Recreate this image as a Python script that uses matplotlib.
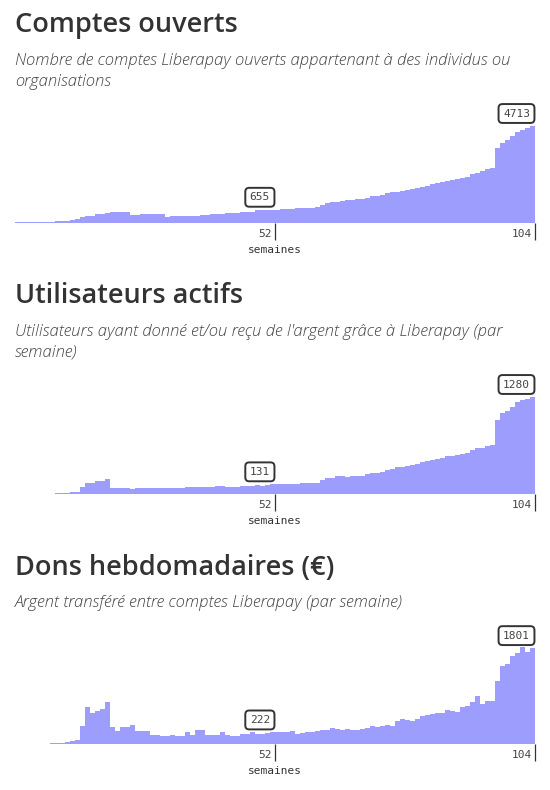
import matplotlib
matplotlib.use("Agg")
import matplotlib.pyplot as plt
import numpy as np

# weekly stats, weeks 1..104
comptes = [40, 42, 45, 65, 66, 68, 70, 72, 130, 132, 134, 136, 195, 290, 360, 365,
           435, 440, 510, 565, 568, 568, 566, 400, 405, 450, 452, 452, 451, 450,
           325, 352, 355, 356, 356, 357, 358, 400, 405, 448, 452, 455, 510, 515,
           518, 560, 565, 568, 640, 645, 650, 655,
           662, 692, 696, 700, 738, 742, 745, 748, 790, 887, 968, 1028, 1035, 1081,
           1125, 1132, 1175, 1182, 1226, 1318, 1326, 1372, 1468, 1512, 1520, 1565,
           1613, 1662, 1710, 1759, 1807, 1904, 1953, 2001, 2050, 2098, 2147, 2195,
           2243, 2389, 2437, 2534, 2631, 2679, 3647, 3875, 4020, 4230, 4425, 4520,
           4600, 4713]

actifs = [3, 3, 4, 4, 4, 5, 5, 5, 17, 18, 19, 30, 31, 96, 148, 150, 174, 176, 202,
          84, 83, 83, 82, 70, 82, 83, 83, 84, 84, 84, 85, 85, 85, 86, 95, 96, 96,
          97, 97, 98, 109, 110, 100, 101, 102, 113, 114, 115, 123, 110, 124, 131,
          134, 135, 136, 137, 138, 147, 148, 149, 150, 188, 213, 216, 240, 242,
          228, 239, 241, 243, 267, 279, 282, 294, 320, 333, 357, 361, 373, 386,
          399, 425, 438, 452, 465, 478, 502, 506, 517, 530, 543, 583, 607, 611,
          636, 649, 977, 1069, 1096, 1148, 1214, 1240, 1254, 1280]

dons = [5, 5, 6, 6, 7, 7, 8, 24, 25, 27, 45, 64, 83, 350, 694, 579, 617, 656, 790,
        331, 255, 330, 333, 369, 256, 255, 254, 179, 177, 160, 158, 178, 159, 160,
        236, 178, 274, 273, 179, 178, 178, 236, 178, 160, 159, 196, 198, 236, 197,
        198, 216, 222,
        235, 236, 237, 255, 197, 216, 235, 237, 255, 273, 275, 312, 293, 274, 293,
        274, 273, 293, 312, 350, 331, 350, 369, 350, 427, 465, 446, 444, 465, 522,
        541, 560, 578, 580, 637, 617, 598, 694, 713, 790, 904, 751, 806, 810, 1191,
        1458, 1497, 1650, 1707, 1822, 1726, 1801]

titres = ["Comptes ouverts", "Utilisateurs actifs", "Dons hebdomadaires (€)"]
sous_titres = [
    "Nombre de comptes Liberapay ouverts appartenant à des individus ou\norganisations",
    "Utilisateurs ayant donné et/ou reçu de l'argent grâce à Liberapay (par\nsemaine)",
    "Argent transféré entre comptes Liberapay (par semaine)",
]
series = [comptes, actifs, dons]
tick_weeks = [52, 104]

W, H = 550, 790
fig = plt.figure(figsize=(W / 100, H / 100), dpi=100)

# pixel layout (from top): title baseline, first subtitle baseline, axis baseline
layout = [(32, 65, 223.3), (303, 336, 494.3), (575, 607, 744.3)]
bar_color = "#9d9dfe"
mono = "DejaVu Sans Mono"

for k in range(3):
    t_y, s_y, base_y = layout[k]
    vals = np.array(series[k])
    weeks = np.arange(1, len(vals) + 1)

    fig.text(15 / W, 1 - t_y / H, titres[k], fontsize=19.5, family="Open Sans",
             weight="semibold", color="#333333", va="baseline")
    for j, line in enumerate(sous_titres[k].split("\n")):
        fig.text(15 / W, 1 - (s_y + 20.5 * j) / H, line, fontsize=12,
                 family="Open Sans", style="italic", weight="light",
                 color="#444444", va="baseline")

    ax = fig.add_axes([15 / W, 1 - base_y / H, 520 / W, 97.3 / H])
    ax.bar(weeks - 0.5, vals, width=1.0, color=bar_color, linewidth=0, antialiased=False)
    ax.set_xlim(0, 104)
    ax.set_ylim(0, vals.max())
    for s in ax.spines.values():
        s.set_visible(False)
    ax.set_yticks([])
    ax.set_xticks(tick_weeks)
    ax.set_xticklabels([])
    ax.tick_params(axis="x", direction="out", length=12, width=0.9, color="#333333")
    ax.patch.set_alpha(0)

    for w in tick_weeks:
        ax.annotate(str(w), xy=(w, 0), xycoords=("data", "axes fraction"),
                    xytext=(-2.5, -7.5), textcoords="offset points", ha="right",
                    va="center", family=mono, fontsize=8, color="#444444")
        v = vals[w - 1]
        ax.annotate(str(v), xy=(w, v), xycoords="data", xytext=(-3.6, 5.4),
                    textcoords="offset points", ha="right", va="bottom",
                    family=mono, fontsize=8, color="#444444", annotation_clip=False,
                    bbox=dict(boxstyle="round,pad=0.4,rounding_size=0.35",
                              fc="white", ec="#333333", lw=1.4))
    ax.annotate("semaines", xy=(52, 0), xycoords=("data", "axes fraction"),
                xytext=(0, -19.5), textcoords="offset points", ha="center",
                va="center", family=mono, fontsize=8, color="#333333")

fig.savefig("out.png", dpi=100)
